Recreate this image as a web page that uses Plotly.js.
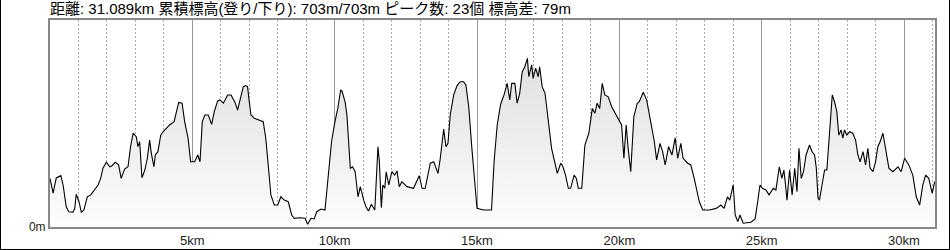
<!DOCTYPE html>
<html>
<head>
<meta charset="utf-8">
<script src="https://cdn.plot.ly/plotly-3.0.1.min.js"></script>
<style>
html,body{margin:0;padding:0;background:#fff;}
#wrap{width:950px;height:250px;box-sizing:border-box;border-left:1px solid #000;border-right:1px solid #000;border-bottom:1px solid #000;overflow:hidden;}
#chart{width:948px;height:249px;}
</style>
</head>
<body>
<div id="wrap"><div id="chart"></div></div>
<script>
const titleText = "距離: 31.089km 累積標高(登り/下り): 703m/703m ピーク数: 23個 標高差: 79m";
const distKm = [0,0.11,0.22,0.38,0.46,0.57,0.66,0.81,0.87,0.92,1.02,1.10,1.19,1.31,1.43,1.57,1.69,1.78,1.86,1.98,
2.10,2.18,2.29,2.41,2.50,2.62,2.74,2.83,2.92,3.03,3.09,3.15,3.23,3.33,3.42,3.50,3.56,3.65,3.70,3.79,
3.89,3.97,4.09,4.20,4.36,4.44,4.52,4.64,4.73,4.85,4.94,5.08,5.19,5.27,5.35,5.44,5.56,5.68,5.77,5.89,
5.97,6.09,6.24,6.36,6.50,6.59,6.71,6.79,6.87,6.94,7.00,7.06,7.18,7.38,7.49,7.58,7.67,7.76,7.88,8.00,
8.11,8.23,8.37,8.49,8.58,8.78,8.96,9.05,9.17,9.28,9.37,9.52,9.66,9.78,9.89,10.01,10.11,10.21,10.26,10.37,
10.43,10.49,10.55,10.63,10.72,10.82,10.90,11.02,11.10,11.19,11.29,11.41,11.52,11.57,11.64,11.69,11.76,11.81,11.90,12.01,
12.11,12.19,12.27,12.36,12.54,12.77,12.89,12.97,13.07,13.18,13.36,13.48,13.63,13.71,13.83,13.91,13.98,14.06,14.18,14.30,
14.41,14.53,14.61,14.71,14.82,15.00,15.23,15.51,15.60,15.71,15.83,15.95,16.06,16.15,16.22,16.33,16.41,16.50,16.59,16.68,
16.77,16.82,16.92,16.97,17.06,17.15,17.20,17.29,17.39,17.47,17.55,17.62,17.70,17.82,17.94,18.02,18.11,18.21,18.29,18.41,
18.49,18.56,18.68,18.79,18.93,19.05,19.14,19.22,19.31,19.40,19.49,19.61,19.73,19.85,19.96,20.08,20.16,20.24,20.31,20.40,
20.51,20.63,20.70,20.84,20.96,21.11,21.23,21.31,21.43,21.52,21.61,21.73,21.85,21.96,22.05,22.16,22.24,22.40,22.51,22.63,
22.81,22.93,23.16,23.40,23.57,23.68,23.80,23.88,24.00,24.07,24.16,24.24,24.35,24.62,24.77,24.86,24.94,25.03,25.15,25.26,
25.41,25.50,25.62,25.71,25.78,25.84,25.89,25.98,26.07,26.16,26.24,26.31,26.39,26.47,26.56,26.68,26.77,26.86,26.92,26.98,
27.03,27.12,27.21,27.29,27.39,27.48,27.56,27.64,27.71,27.79,27.85,27.91,27.99,28.09,28.20,28.30,28.38,28.46,28.56,28.65,
28.73,28.81,28.91,29.00,29.08,29.16,29.26,29.35,29.47,29.61,29.79,29.90,30.02,30.17,30.31,30.43,30.55,30.66,30.76,30.87,
30.99,31.08];
const elevM = [23.5,16.4,23.7,24.8,20.3,9.8,7.4,7.2,9.0,15.8,12.2,7.1,8.2,14.6,15.5,17.9,20.3,23.5,28.4,31.3,
29.1,29.6,31.3,30.0,23.5,28.0,29.1,38.8,45.3,43.6,38.8,41.2,23.8,27.5,33.2,42.0,35.6,29.1,34.8,36.4,
44.4,46.0,47.7,49.3,50.9,55.7,60.2,59.8,50.9,42.9,31.5,31.5,34.8,31.5,50.9,54.1,54.1,49.6,55.7,60.9,
61.4,59.8,63.8,63.8,60.2,56.5,63.8,67.8,68.3,67.8,60.5,54.1,52.5,51.7,50.9,42.9,30.0,15.5,10.6,10.6,
14.6,13.0,12.2,5.8,4.2,4.5,4.2,1.3,4.2,3.9,7.4,8.7,8.2,26.7,41.2,50.9,57.3,66.2,65.5,60.2,
54.1,41.2,28.4,29.1,26.7,14.6,19.5,13.0,9.8,7.7,11.0,8.2,38.8,31.5,9.3,20.3,18.7,26.7,20.3,26.7,
25.1,27.1,19.5,21.9,19.5,18.7,22.7,24.8,18.7,18.7,30.8,31.5,25.9,33.2,47.3,38.8,40.4,54.1,63.8,68.3,
70.2,70.2,68.6,58.1,38.0,9.0,8.2,8.2,31.5,49.3,59.3,63.8,69.4,61.4,69.4,69.4,59.8,64.6,75.0,77.4,
81.5,72.6,78.3,71.8,76.7,72.6,77.4,67.8,64.6,55.7,47.7,38.0,33.2,25.9,30.8,29.1,25.1,18.7,18.7,25.1,
23.5,18.7,18.7,39.6,45.3,57.3,54.9,59.8,57.3,69.4,63.8,62.9,58.1,54.9,52.5,49.3,33.2,49.3,38.0,26.7,
53.3,59.8,60.5,65.1,61.4,50.9,41.2,32.4,40.4,36.4,30.0,38.8,34.8,43.1,33.2,40.4,33.2,30.8,30.0,23.5,
12.2,8.2,8.2,9.0,10.6,9.0,14.6,13.0,20.3,5.8,2.6,5.8,1.8,2.3,3.9,12.2,20.3,18.7,17.9,15.5,
18.7,17.9,29.1,23.5,27.5,20.3,13.0,27.5,15.5,28.4,17.1,38.0,23.5,26.7,34.8,39.6,36.4,34.8,28.4,13.9,
13.0,20.3,27.5,27.5,49.3,63.8,60.5,55.7,44.4,46.9,42.9,46.9,44.4,46.0,45.3,42.0,34.8,31.5,36.4,30.0,
38.0,28.4,26.7,31.5,38.8,41.2,45.3,38.0,28.4,26.7,29.1,26.7,33.2,30.0,25.1,14.6,10.6,20.3,25.1,23.5,
16.3,21.9];
const xTickVals = [5,10,15,20,25,30];
const xTickText = ["5km","10km","15km","20km","25km","30km"];
const yTickVals = [0];
const yTickText = ["0m"];

const trace = {
  x: distKm, y: elevM, type: 'scatter', mode: 'lines',
  line: {color: '#000', width: 1.1},
  fill: 'tozeroy',
  fillgradient: {type: 'vertical', start: 0, stop: 85,
    colorscale: [[0, '#fdfdfd'], [1, '#dedede']]},
  hoverinfo: 'skip'
};
const fontFam = '"Liberation Sans", "Noto Sans CJK JP", sans-serif';
const layout = {
  width: 948, height: 249,
  margin: {l: 49, r: 14, t: 20, b: 22},
  paper_bgcolor: '#fff', plot_bgcolor: '#fff',
  showlegend: false,
  title: {text: titleText, font: {family: fontFam, size: 15, color: '#000'},
    x: 49/948, xref: 'container', xanchor: 'left', y: 1, yref: 'container', yanchor: 'top', pad: {t: 3}},
  xaxis: {range: [0, 31.089], tickvals: xTickVals, ticktext: xTickText,
    showgrid: true, gridcolor: '#999', gridwidth: 1,
    minor: {dtick: 1, tick0: 0, showgrid: true, gridcolor: '#aaa', griddash: '2px,2px', gridwidth: 1},
    showline: true, mirror: true, linecolor: '#888', linewidth: 2,
    ticks: '', ticklen: 0, tickfont: {family: fontFam, size: 13, color: '#222'}, zeroline: false, fixedrange: true},
  yaxis: {range: [0, 100], tickvals: yTickVals, ticktext: yTickText, showgrid: false,
    showline: true, mirror: true, linecolor: '#888', linewidth: 2,
    ticks: '', tickfont: {family: fontFam, size: 12, color: '#222'}, zeroline: false, fixedrange: true}
};
Plotly.newPlot('chart', [trace], layout, {staticPlot: true, displayModeBar: false});
</script>
</body>
</html>
